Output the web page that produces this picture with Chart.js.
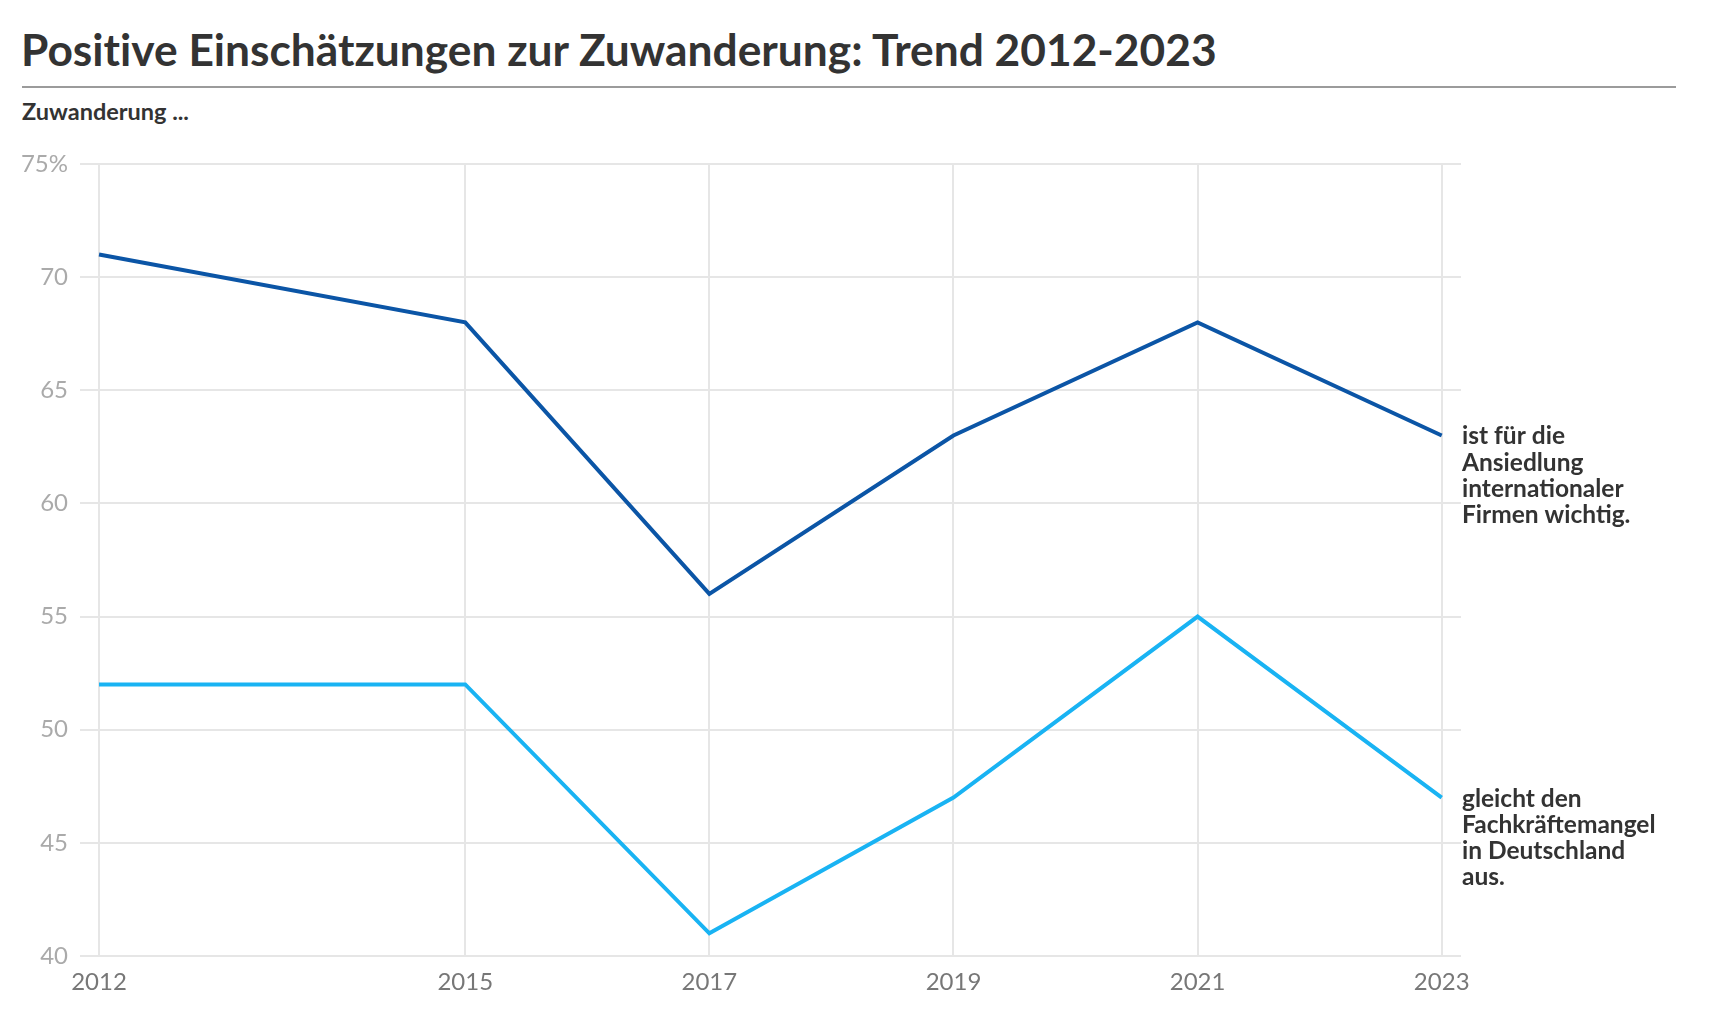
<!DOCTYPE html>
<html><head><meta charset="utf-8">
<script src="https://cdn.jsdelivr.net/npm/chart.js@4.4.0/dist/chart.umd.min.js"></script>
<style>
body{margin:0;background:#fff;font-family:Lato,sans-serif;width:1720px;height:1021px;overflow:hidden;position:relative;}
#title{position:absolute;left:21px;top:21.5px;font-weight:700;font-size:44.3px;line-height:1.2;color:#333;white-space:nowrap;font-variant-ligatures:none;}
#rule{position:absolute;left:22px;top:85.5px;width:1654px;height:2px;background:#9b9b9b;}
#sub{position:absolute;left:22px;top:97px;font-weight:700;font-size:23.5px;line-height:1.2;color:#333;white-space:nowrap;}
canvas{position:absolute;left:0;top:0;}
</style></head>
<body>
<div id="title">Positive Einschätzungen zur Zuwanderung: Trend 2012-2023</div>
<div id="rule"></div>
<div id="sub">Zuwanderung ...</div>
<canvas id="c" width="1720" height="1021"></canvas>
<script>
const years = [2012, 2015, 2017, 2019, 2021, 2023];
const firmen = [71, 68, 56, 63, 68, 63];
const fachkraefte = [52, 52, 41, 47, 55, 47];
const labelFirmen = ["ist für die", "Ansiedlung", "internationaler", "Firmen wichtig."];
const labelFachkraefte = ["gleicht den", "Fachkräftemangel", "in Deutschland", "aus."];
const yTicks = [40, 45, 50, 55, 60, 65, 70, 75];

const endLabels = {
  id: 'endLabels',
  afterDatasetsDraw(chart) {
    const ctx = chart.ctx;
    ctx.save();
    ctx.font = 'bold 24.5px Lato';
    ctx.fillStyle = '#333';
    ctx.textAlign = 'left';
    ctx.textBaseline = 'middle';
    chart.data.datasets.forEach((ds, i) => {
      const meta = chart.getDatasetMeta(i);
      const pt = meta.data[meta.data.length - 1];
      const x = chart.chartArea.right + 1;
      ds.endLabel.forEach((line, j) => {
        ctx.fillText(line, x, pt.y + 1 + j * 26.3);
      });
    });
    ctx.restore();
  }
};

new Chart(document.getElementById('c'), {
  type: 'line',
  data: {
    datasets: [
      { data: years.map((y, i) => ({x: y, y: firmen[i]})), borderColor: '#0b55a6', borderWidth: 4, pointRadius: 0, tension: 0, endLabel: labelFirmen },
      { data: years.map((y, i) => ({x: y, y: fachkraefte[i]})), borderColor: '#19b3f3', borderWidth: 4, pointRadius: 0, tension: 0, endLabel: labelFachkraefte }
    ]
  },
  options: {
    responsive: false,
    devicePixelRatio: 1,
    animation: false,
    layout: { padding: { top: 164, right: 259, bottom: 25, left: 0 } },
    plugins: { legend: { display: false }, tooltip: { enabled: false } },
    scales: {
      x: {
        type: 'linear',
        min: 2011.844,
        max: 2023.158,
        afterBuildTicks: s => { s.ticks = years.map(v => ({value: v})); },
        afterFit: s => { s.height = 40; },
        ticks: { callback: v => String(v), color: '#777', font: { family: 'Lato', size: 24 }, padding: 12, maxRotation: 0, autoSkip: false },
        grid: { color: '#e6e6e6', lineWidth: 2, drawTicks: false },
        border: { display: false }
      },
      y: {
        min: 40,
        max: 75,
        afterBuildTicks: s => { s.ticks = yTicks.map(v => ({value: v})); },
        afterFit: s => { s.width = 80; },
        ticks: { callback: v => v === 75 ? v + '%' : String(v), color: '#aaa', font: { family: 'Lato', size: 24 }, padding: 12 },
        grid: { color: '#e6e6e6', lineWidth: 2, drawTicks: false },
        border: { display: false }
      }
    }
  },
  plugins: [endLabels]
});
</script>
</body></html>
